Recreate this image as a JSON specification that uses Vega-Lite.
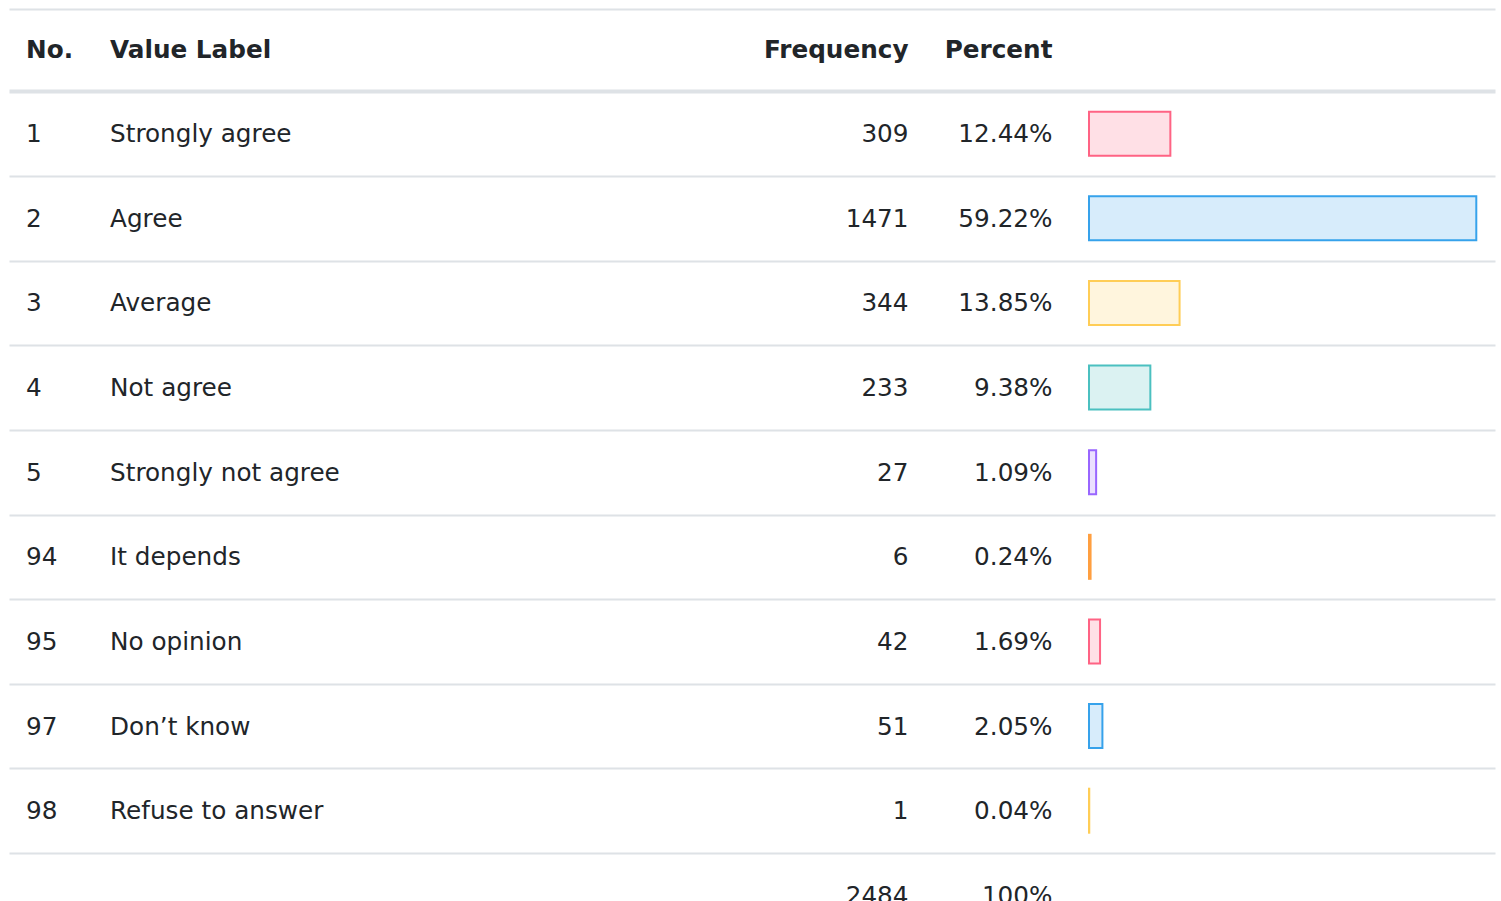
{
  "$schema": "https://vega.github.io/schema/vega-lite/v6.json",
  "width": 1486,
  "height": 901,
  "autosize": {"type": "none"},
  "padding": {"left": 9, "right": 6, "top": 0, "bottom": 0},
  "background": "white",
  "config": {
    "view": {"stroke": null},
    "text": {"font": "DejaVu Sans", "fontSize": 24.7, "fill": "#212529", "baseline": "middle", "dy": 1.5}
  },
  "data": {
    "values": [
      {"row": 0, "no": "No.", "label": "Value Label", "freq": "Frequency", "pct": "Percent"},
      {"row": 1, "no": "1", "label": "Strongly agree", "freq": 309, "pct": "12.44%", "pctv": 12.44},
      {"row": 2, "no": "2", "label": "Agree", "freq": 1471, "pct": "59.22%", "pctv": 59.22},
      {"row": 3, "no": "3", "label": "Average", "freq": 344, "pct": "13.85%", "pctv": 13.85},
      {"row": 4, "no": "4", "label": "Not agree", "freq": 233, "pct": "9.38%", "pctv": 9.38},
      {"row": 5, "no": "5", "label": "Strongly not agree", "freq": 27, "pct": "1.09%", "pctv": 1.09},
      {"row": 6, "no": "94", "label": "It depends", "freq": 6, "pct": "0.24%", "pctv": 0.24},
      {"row": 7, "no": "95", "label": "No opinion", "freq": 42, "pct": "1.69%", "pctv": 1.69},
      {"row": 8, "no": "97", "label": "Don’t know", "freq": 51, "pct": "2.05%", "pctv": 2.05},
      {"row": 9, "no": "98", "label": "Refuse to answer", "freq": 1, "pct": "0.04%", "pctv": 0.04},
      {"row": 10, "no": "", "label": "", "freq": 2484, "pct": "100%"}
    ]
  },
  "encoding": {
    "y": {
      "field": "row",
      "type": "quantitative",
      "scale": {"domain": [-0.5797, 10.067], "reverse": true, "zero": false, "nice": false, "padding": 0},
      "axis": {
        "values": [-0.47, 0.5, 1.5, 2.5, 3.5, 4.5, 5.5, 6.5, 7.5, 8.5, 9.5],
        "grid": true,
        "gridColor": "#dee2e6",
        "gridOpacity": 1,
        "gridWidth": {"condition": {"test": "datum.value == 0.5", "value": 4}, "value": 2},
        "labels": false,
        "ticks": false,
        "domain": false,
        "title": null
      }
    }
  },
  "layer": [
    {
      "transform": [{"filter": "isValid(datum.pctv)"}],
      "mark": {"type": "bar", "size": 44, "strokeWidth": 2, "fillOpacity": 0.2},
      "encoding": {
        "x": {"field": "pctv", "type": "quantitative", "scale": {"domain": [-165.14, 62.08], "zero": false, "nice": false, "padding": 0}, "axis": null},
        "x2": {"datum": 0},
        "fill": {"field": "no", "type": "nominal", "legend": null,
          "scale": {"domain": ["1", "2", "3", "4", "5", "94", "95", "97", "98"],
                    "range": ["#ff6384", "#36a2eb", "#ffcd56", "#4bc0c0", "#9966ff", "#ff9f40", "#ff6384", "#36a2eb", "#ffcd56"]}},
        "stroke": {"field": "no", "type": "nominal", "legend": null,
          "scale": {"domain": ["1", "2", "3", "4", "5", "94", "95", "97", "98"],
                    "range": ["#ff6384", "#36a2eb", "#ffcd56", "#4bc0c0", "#9966ff", "#ff9f40", "#ff6384", "#36a2eb", "#ffcd56"]}}
      }
    },
    {
      "encoding": {"x": {"datum": -162.54, "type": "quantitative", "axis": null}, "text": {"field": "no", "type": "nominal"}},
      "layer": [
        {"transform": [{"filter": "datum.row == 0"}], "mark": {"type": "text", "align": "left", "fontWeight": "bold"}},
        {"transform": [{"filter": "datum.row > 0"}], "mark": {"type": "text", "align": "left"}}
      ]
    },
    {
      "encoding": {"x": {"datum": -149.69, "type": "quantitative", "axis": null}, "text": {"field": "label", "type": "nominal"}},
      "layer": [
        {"transform": [{"filter": "datum.row == 0"}], "mark": {"type": "text", "align": "left", "fontWeight": "bold"}},
        {"transform": [{"filter": "datum.row > 0"}], "mark": {"type": "text", "align": "left"}}
      ]
    },
    {
      "encoding": {"x": {"datum": -27.6, "type": "quantitative", "axis": null}, "text": {"field": "freq", "type": "nominal"}},
      "layer": [
        {"transform": [{"filter": "datum.row == 0"}], "mark": {"type": "text", "align": "right", "fontWeight": "bold"}},
        {"transform": [{"filter": "datum.row > 0"}], "mark": {"type": "text", "align": "right"}}
      ]
    },
    {
      "encoding": {"x": {"datum": -5.58, "type": "quantitative", "axis": null}, "text": {"field": "pct", "type": "nominal"}},
      "layer": [
        {"transform": [{"filter": "datum.row == 0"}], "mark": {"type": "text", "align": "right", "fontWeight": "bold"}},
        {"transform": [{"filter": "datum.row > 0"}], "mark": {"type": "text", "align": "right"}}
      ]
    }
  ]
}
